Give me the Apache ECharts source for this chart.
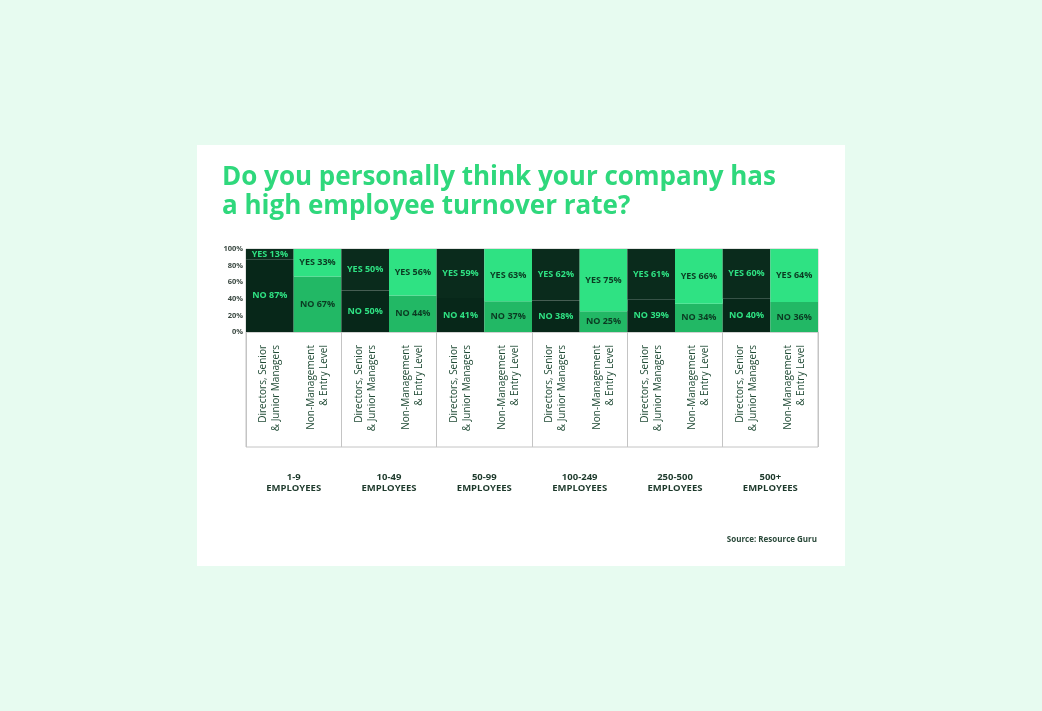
<!DOCTYPE html>
<html>
<head>
<meta charset="utf-8">
<script src="https://cdn.jsdelivr.net/npm/echarts@6/dist/echarts.min.js"></script>
<style>
html, body { margin: 0; padding: 0; background: #e7fbf0; }
#chart { width: 1042px; height: 711px; }
</style>
</head>
<body>
<div id="chart"></div>
<script>
// company size groups (bottom row)
var groups = ['1-9\nEMPLOYEES', '10-49\nEMPLOYEES', '50-99\nEMPLOYEES', '100-249\nEMPLOYEES', '250-500\nEMPLOYEES', '500+\nEMPLOYEES'];
// two roles inside each group
var roles = ['Directors, Senior\n& Junior Managers', 'Non-Management\n& Entry Level'];
// percent answering yes / no, in group order, directors then non-management
var yesValues = [13, 33, 50, 56, 59, 63, 62, 75, 61, 66, 60, 64];
var noValues = [87, 67, 50, 44, 41, 37, 38, 25, 39, 34, 40, 36];
var yTicks = [0, 20, 40, 60, 80, 100];

var categories = [];
for (var i = 0; i < groups.length; i++) {
    categories.push(roles[0]);
    categories.push(roles[1]);
}

var chart = echarts.init(document.getElementById('chart'));

var font = '"Open Sans", Lato, sans-serif';
var dirYes = '#0a2b1c', dirNo = '#072719';
var nmYes = '#2fe283', nmNo = '#22b865';

function barColor(isYes) {
    return function (p) {
        var dir = p.dataIndex % 2 == 0;
        if (isYes) return dir ? dirYes : nmYes;
        return dir ? dirNo : nmNo;
    };
}

function labelOpt(prefix) {
    return {
        show: true,
        position: 'inside',
        fontFamily: font,
        fontWeight: 'bold',
        fontSize: 9,
        formatter: function (p) { return prefix + ' ' + p.value + '%'; }
    };
}

function buildData(values) {
    var out = [];
    for (var i = 0; i < values.length; i++) {
        var dir = i % 2 == 0;
        out.push({
            value: values[i],
            label: { color: dir ? '#2fe283' : '#0b3a22' }
        });
    }
    return out;
}

var option = {
    backgroundColor: '#e7fbf0',
    title: [
        {
            text: 'Do you personally think your company has\na high employee turnover rate?',
            left: 217,
            top: 158,
            textStyle: {
                color: '#2fd87c',
                fontFamily: font,
                fontWeight: 'bold',
                fontSize: 26,
                lineHeight: 29
            }
        },
        {
            text: 'Source: Resource Guru',
            right: 220,
            top: 531,
            textStyle: {
                color: '#2b4a3b',
                fontFamily: font,
                fontWeight: 'bold',
                fontSize: 8
            }
        }
    ],
    graphic: [
        {
            type: 'rect',
            z: -10,
            silent: true,
            shape: { x: 197, y: 145, width: 648, height: 421 },
            style: { fill: '#ffffff' }
        }
    ],
    grid: [
        {
            left: 246, right: 224, top: 249, height: 83,
            show: true, borderColor: '#c4c4c4', borderWidth: 1,
            backgroundColor: 'transparent'
        },
        {
            left: 246, right: 224, top: 332, height: 115,
            show: true, borderColor: '#c4c4c4', borderWidth: 1,
            backgroundColor: 'transparent'
        }
    ],
    xAxis: [
        {
            type: 'category',
            gridIndex: 0,
            data: categories,
            axisLine: { show: false },
            axisTick: { show: false },
            axisLabel: {
                rotate: 90,
                interval: 0,
                margin: 13,
                color: '#1f4a34',
                fontFamily: font,
                fontSize: 10,
                lineHeight: 13
            }
        },
        {
            type: 'category',
            gridIndex: 1,
            data: groups,
            axisLine: { show: false },
            axisTick: { show: false },
            splitLine: { show: true, interval: 0, lineStyle: { color: '#c4c4c4', width: 1 } },
            axisLabel: {
                margin: 25,
                color: '#1e3a2c',
                fontFamily: font,
                fontWeight: 'bold',
                fontSize: 9.5,
                lineHeight: 11
            }
        }
    ],
    yAxis: [
        {
            type: 'value',
            gridIndex: 0,
            min: yTicks[0],
            max: yTicks[yTicks.length - 1],
            interval: 20,
            splitLine: { show: false },
            axisLine: { show: false },
            axisTick: { show: false },
            axisLabel: {
                margin: 3,
                color: '#3c4a43',
                fontFamily: font,
                fontWeight: 'bold',
                fontSize: 7.5,
                formatter: '{value}%'
            }
        },
        {
            type: 'value',
            gridIndex: 1,
            show: false
        }
    ],
    series: [
        {
            name: 'NO',
            type: 'bar',
            stack: 'answer',
            xAxisIndex: 0,
            yAxisIndex: 0,
            barWidth: '100%',
            data: buildData(noValues),
            itemStyle: { color: barColor(false) },
            label: labelOpt('NO')
        },
        {
            name: 'YES',
            type: 'bar',
            stack: 'answer',
            xAxisIndex: 0,
            yAxisIndex: 0,
            barWidth: '100%',
            data: buildData(yesValues),
            itemStyle: { color: barColor(true) },
            label: labelOpt('YES')
        }
    ]
};

chart.setOption(option);
</script>
</body>
</html>
